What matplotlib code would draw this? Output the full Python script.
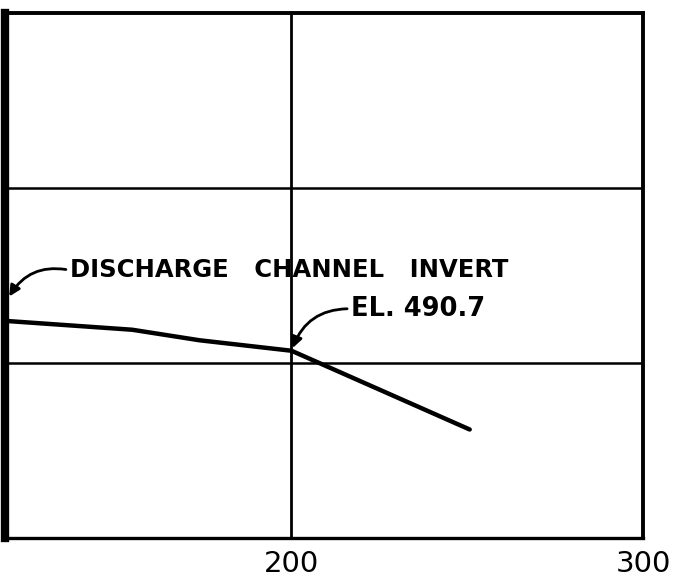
import matplotlib
matplotlib.use("Agg")
import matplotlib.pyplot as plt

# ---------------------------------------------------------------------------
# Data (station vs. elevation)
# ---------------------------------------------------------------------------
station = [119.1, 154.7, 173.8, 200.0, 250.7]
elevation = [492.4, 491.9, 491.3, 490.7, 486.2]

x_ticks = [200, 300]
x_tick_labels = ["200", "300"]
grid_x = [200]
grid_y = [490, 500]

invert_label = "DISCHARGE   CHANNEL   INVERT"
invert_tip = (119.7, 493.8)
invert_text_at = (137.0, 495.3)

el_label = "EL. 490.7"
el_tip = (200.3, 490.85)
el_text_at = (217.0, 493.1)

# ---------------------------------------------------------------------------
# Plot
# ---------------------------------------------------------------------------
fig = plt.figure(figsize=(6.85, 5.81), dpi=100)
fig.patch.set_facecolor("white")
ax = fig.add_axes([5 / 685, 1 - 538 / 581, 638 / 685, 525 / 581])

ax.set_xlim(118.5, 300)
ax.set_ylim(480, 510)

for gx in grid_x:
    ax.axvline(gx, color="black", linewidth=2.0, zorder=1)
for gy in grid_y:
    ax.axhline(gy, color="black", linewidth=1.8, zorder=1)

ax.plot(station, elevation, color="black", linewidth=3.2,
        solid_capstyle="round", zorder=3)

for side, lw in [("left", 6.0), ("top", 2.8), ("right", 2.8), ("bottom", 2.4)]:
    ax.spines[side].set_linewidth(lw)
    ax.spines[side].set_color("black")

ax.set_xticks(x_ticks)
ax.set_xticklabels(x_tick_labels, fontsize=21, family="DejaVu Sans")
ax.tick_params(axis="x", length=0, pad=9)
ax.set_yticks([])

arrow = dict(arrowstyle="-|>", color="black", lw=2.0, mutation_scale=16,
             connectionstyle="arc3,rad=0.35", relpos=(0, 0.5),
             shrinkA=1, shrinkB=0)

ax.annotate(invert_label, xy=invert_tip, xytext=invert_text_at,
            ha="left", va="center", fontsize=17.5, fontweight="bold",
            family="DejaVu Sans", arrowprops=arrow, zorder=4)
ax.annotate(el_label, xy=el_tip, xytext=el_text_at,
            ha="left", va="center", fontsize=18.5, fontweight="bold",
            family="DejaVu Sans", arrowprops=arrow, zorder=4)

fig.savefig("out.png", dpi=100, facecolor=fig.get_facecolor())
